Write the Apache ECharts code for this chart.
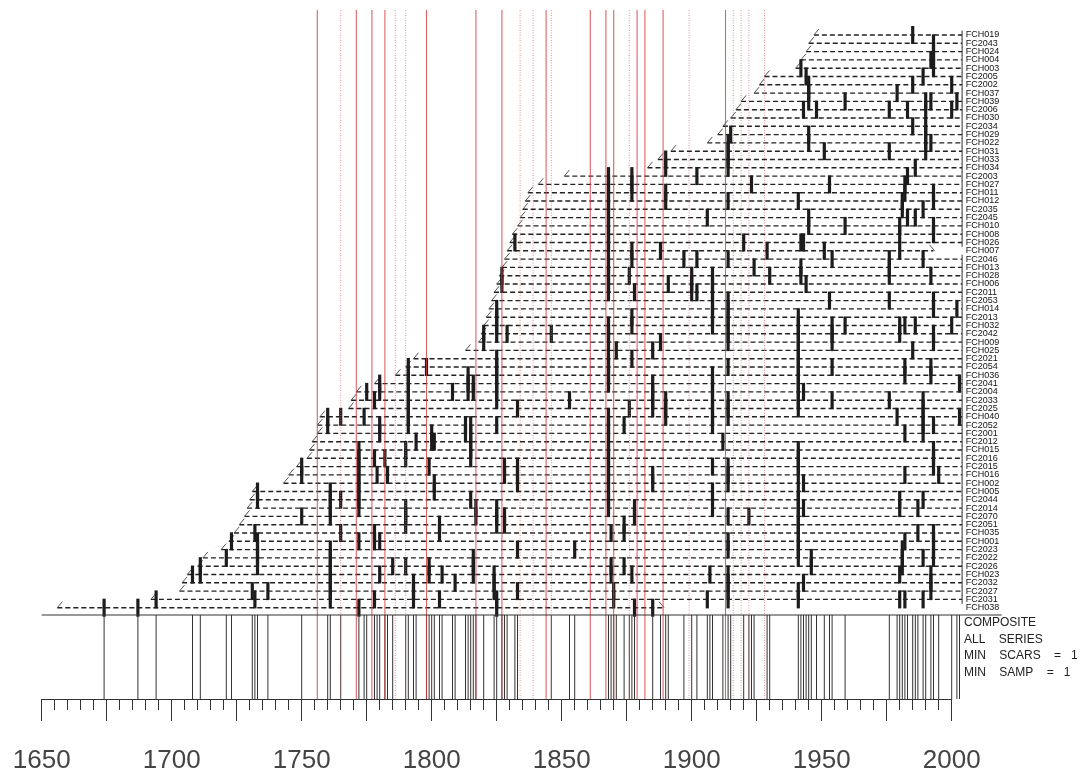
<!DOCTYPE html>
<html>
<head>
<meta charset="utf-8">
<title>Fire history chart</title>
<script src="https://cdn.jsdelivr.net/npm/echarts@6/dist/echarts.min.js"></script>
<style>
  html, body { margin: 0; padding: 0; background: #ffffff; }
  #chart { width: 1083px; height: 774px; }
</style>
</head>
<body>
<div id="chart"></div>
<script>
// Sample names, top to bottom
const seriesNames = [
  'FCH019','FC2043','FCH024','FCH004','FCH003','FC2005','FC2002','FCH037','FCH039','FC2006',
  'FCH030','FC2034','FCH029','FCH022','FCH031','FCH033','FCH034','FC2003','FCH027','FCH011',
  'FCH012','FC2035','FC2045','FCH010','FCH008','FCH026','FCH007','FC2046','FCH013','FCH028',
  'FCH006','FC2011','FC2053','FCH014','FC2013','FCH032','FC2042','FCH009','FCH025','FC2021',
  'FC2054','FCH036','FC2041','FC2004','FC2033','FC2025','FCH040','FC2052','FC2001','FC2012',
  'FCH015','FC2016','FC2015','FCH016','FCH002','FCH005','FC2044','FC2014','FC2070','FC2051',
  'FCH035','FCH001','FC2023','FC2022','FC2026','FCH023','FC2032','FC2027','FC2031','FCH038'
];

// Inner (first) year of each sample
const firstYears = [
  1947,1945,1944,1942,1940,1928,1926,1924,1919,1917,
  1915,1912,1910,1906,1892,1887,1883,1851,1841,1837,
  1836,1835,1834,1833,1831,1830,1829,1828,1827,1826,
  1825,1824,1823,1822,1821,1820,1819,1818,1813,1793,
  1790,1786,1778,1771,1769,1768,1757,1756,1756,1754,
  1753,1752,1748,1745,1743,1731,1730,1729,1728,1726,
  1724,1722,1719,1712,1710,1706,1704,1703,1692,1656
];

// Outer (last) year of each sample
const lastYears = [
  2004,2004,2004,2004,2004,2004,2004,2004,2004,2004,
  2004,2004,2004,2004,2004,2004,2004,2004,2004,2004,
  2004,2004,2004,2004,2004,2004,1993,2004,2004,2004,
  2004,2004,2004,2004,2004,2004,2004,2004,2004,2004,
  2004,2004,2004,2004,2004,2004,2004,2004,2004,2004,
  2004,2004,2004,2004,2004,2004,2004,2004,2004,2004,
  2004,2004,2004,2004,2004,2004,2004,2004,2004,1889
];

// 1 = outer ring without bark, 0 = bark year
const outerNoBark = [
  0,0,0,0,0,0,0,0,0,0, 0,0,0,0,0,0,0,0,0,0,
  0,0,0,0,0,0,1,0,0,0, 0,0,0,0,0,0,0,0,0,0,
  0,0,0,0,0,0,0,0,0,0, 0,0,0,0,0,0,0,0,0,0,
  0,0,0,0,0,0,0,0,0,1
];

// Fire scar years per sample
const scarYears = [
  [1985],
  [1993],
  [1993],
  [1992, 1993],
  [1942, 1993],
  [1944, 1989],
  [1945, 1985, 2000],
  [1945, 1979],
  [1945, 1959, 1990, 1992, 2002],
  [1943, 1948, 1976, 1983, 1990, 2000],
  [],
  [1985, 1990],
  [1915, 1945, 1990],
  [1914, 1945, 1990, 1992],
  [1914, 1951, 1976, 1990],
  [1890, 1914],
  [1890, 1914, 1986],
  [1868, 1877, 1902, 1983],
  [1868, 1877, 1923, 1953, 1982],
  [1868, 1877, 1890, 1982, 1993],
  [1868, 1890, 1914, 1941, 1981, 1993],
  [1868, 1981, 1989],
  [1868, 1906, 1945, 1983, 1986],
  [1868, 1945, 1959, 1980, 1993],
  [1868, 1980, 1993],
  [1832, 1868, 1920, 1942, 1943],
  [1868, 1877, 1888, 1929, 1951, 1980],
  [1877, 1897, 1902, 1914, 1954, 1976, 1989],
  [1868, 1924, 1942, 1976],
  [1827, 1868, 1876, 1900, 1908, 1930, 1942, 1976, 1992],
  [1827, 1868, 1891, 1900, 1908, 1944],
  [1868, 1878, 1900, 1902, 1908],
  [1908, 1914, 1953, 1976, 1993],
  [1825, 1908, 1914, 1993, 2002],
  [1825, 1877, 1908, 1914, 1941],
  [1825, 1868, 1877, 1908, 1914, 1941, 1954, 1959, 1980, 1982, 1986, 2000],
  [1820, 1825, 1829, 1846, 1868, 1914, 1941, 1954, 1980, 1993],
  [1820, 1868, 1888, 1914, 1941, 1954, 1993],
  [1871, 1885, 1941, 1985],
  [1825, 1868, 1877, 1941],
  [1791, 1798, 1825, 1868, 1914, 1941, 1954, 1982, 1992],
  [1791, 1814, 1825, 1868, 1908, 1941, 1982, 1992],
  [1780, 1791, 1814, 1816, 1825, 1868, 1885, 1908, 1941, 2003],
  [1775, 1780, 1791, 1808, 1814, 1816, 1825, 1885, 1908, 1941, 1943],
  [1778, 1791, 1825, 1853, 1885, 1890, 1908, 1914, 1941, 1954, 1976, 1989],
  [1791, 1833, 1876, 1885, 1890, 1908, 1914, 1941, 1989],
  [1760, 1765, 1774, 1791, 1868, 1890, 1908, 1914, 1979, 1989, 2003],
  [1760, 1780, 1791, 1813, 1815, 1825, 1868, 1874, 1908, 1989, 1993],
  [1780, 1800, 1813, 1815, 1868, 1982, 1989],
  [1794, 1800, 1801, 1815, 1868, 1912],
  [1772, 1790, 1815, 1868, 1941, 1993],
  [1772, 1778, 1782, 1790, 1815, 1868, 1941, 1993],
  [1750, 1772, 1799, 1828, 1833, 1868, 1908, 1914, 1941, 1993],
  [1750, 1772, 1779, 1783, 1828, 1833, 1868, 1885, 1914, 1941, 1982, 1995],
  [1772, 1801, 1833, 1868, 1885, 1914, 1943],
  [1733, 1761, 1772, 1801, 1868, 1908, 1941],
  [1733, 1761, 1765, 1772, 1815, 1868, 1941, 1980, 1989],
  [1761, 1772, 1790, 1817, 1825, 1868, 1878, 1908, 1941, 1943, 1980, 1987],
  [1750, 1761, 1790, 1817, 1825, 1828, 1878, 1914, 1922, 1941],
  [1790, 1803, 1825, 1828, 1874, 1941],
  [1732, 1765, 1778, 1803, 1869, 1874, 1941, 1987, 1993],
  [1723, 1733, 1772, 1778, 1780, 1914, 1941, 1982, 1993],
  [1733, 1761, 1833, 1855, 1914, 1941, 1981, 1993],
  [1721, 1733, 1761, 1816, 1941, 1946, 1981, 1989, 1993],
  [1711, 1733, 1761, 1785, 1790, 1799, 1816, 1869, 1874, 1946, 1981],
  [1708, 1711, 1761, 1780, 1799, 1804, 1816, 1824, 1869, 1877, 1907, 1914, 1980, 1992],
  [1761, 1793, 1809, 1824, 1914, 1943, 1992],
  [1731, 1737, 1761, 1793, 1824, 1833, 1870, 1914, 1941, 1992],
  [1694, 1732, 1761, 1778, 1793, 1803, 1825, 1870, 1906, 1914, 1941, 1980, 1982, 1989],
  [1674, 1687, 1772, 1825, 1878, 1885]
];

// Highlighted years (solid and dotted red guides)
const redSolidYears = [1756, 1771, 1777, 1782, 1798, 1817, 1827, 1844, 1861, 1867, 1870, 1879, 1882, 1889, 1913];
const redDottedYears = [1765, 1786, 1790, 1834, 1839, 1846, 1876, 1899, 1916, 1919, 1922, 1928];

// Year labels on the time axis
const tickLabelYears = [1650, 1700, 1750, 1800, 1850, 1900, 1950, 2000];

// Composite legend lines
const compositeNotes = ['COMPOSITE', 'ALL    SERIES', 'MIN    SCARS    =   1', 'MIN    SAMP    =   1'];

// ---- derived tables ----
const rowData = seriesNames.map((n, i) => [i, firstYears[i], lastYears[i], outerNoBark[i]]);
const scarData = [];
scarYears.forEach((ys, i) => ys.forEach(y => scarData.push([y, i])));
const compositeYears = Array.from(new Set(scarData.map(d => d[0]))).sort((a, b) => a - b);
const redData = redSolidYears.map(y => [y, 0]).concat(redDottedYears.map(y => [y, 1]));

const FONT = '"Liberation Sans", Arial, Helvetica, sans-serif';
const chart = echarts.init(document.getElementById('chart'), null, { renderer: 'canvas' });

const option = {
  animation: false,
  backgroundColor: '#ffffff',
  grid: [
    { left: 41.7, right: 118.3, top: 30.85, height: 581 },
    { left: 41.7, right: 131.3, top: 615, bottom: 74 }
  ],
  xAxis: [
    { gridIndex: 0, type: 'value', min: 1650, max: 2005, show: false },
    {
      gridIndex: 1, type: 'value', min: 1650, max: 2000, interval: 25,
      axisLine: { show: true, lineStyle: { color: '#333', width: 1 } },
      axisTick: { show: true, length: 22, lineStyle: { color: '#333', width: 1 } },
      minorTick: { show: true, splitNumber: 5, length: 11, lineStyle: { color: '#333', width: 1 } },
      splitLine: { show: false },
      axisLabel: {
        margin: 49, fontSize: 26, color: '#444', fontFamily: FONT,
        formatter: v => (tickLabelYears.indexOf(v) >= 0 ? String(v) : '')
      }
    }
  ],
  yAxis: [
    {
      gridIndex: 0, type: 'category', data: seriesNames, inverse: true, position: 'right',
      axisLine: { show: false }, axisTick: { show: false }, splitLine: { show: false },
      axisLabel: {
        interval: 0, margin: 1, fontSize: 9, color: '#111', fontFamily: FONT,
        padding: [0, 0, 7, 0]
      }
    },
    { gridIndex: 1, type: 'value', min: 0, max: 1, show: false }
  ],
  graphic: [
    {
      type: 'line', silent: true, z: 5,
      shape: { x1: 41.7, y1: 615, x2: 1001.7, y2: 615 },
      style: { stroke: '#333', lineWidth: 1 }
    }
  ].concat(compositeNotes.map((t, k) => ({
    type: 'text', silent: true, z: 5,
    x: 964, y: 623 + k * 16.4,
    style: { text: t, font: '12px ' + FONT, fill: '#222', textVerticalAlign: 'middle' }
  }))),
  series: [
    {
      // sample time spans
      type: 'custom', xAxisIndex: 0, yAxisIndex: 0, z: 1,
      data: rowData, encode: { x: [1, 2], y: 0 },
      renderItem: (params, api) => {
        const row = api.value(0);
        const p0 = api.coord([api.value(1), row]);
        const p1 = api.coord([api.value(2), row]);
        const y = p0[1];
        const kids = [
          { type: 'line', shape: { x1: p0[0], y1: y, x2: p1[0], y2: y },
            style: { stroke: '#222', lineWidth: 1.4, lineDash: [5, 3] } },
          { type: 'line', shape: { x1: p0[0], y1: y, x2: p0[0] + 5, y2: y - 6 },
            style: { stroke: '#555', lineWidth: 1 } }
        ];
        if (api.value(3)) {
          kids.push({ type: 'line', shape: { x1: p1[0] - 4, y1: y - 6, x2: p1[0] + 1, y2: y },
            style: { stroke: '#555', lineWidth: 1 } });
        } else {
          kids.push({ type: 'line', shape: { x1: p1[0], y1: y - 4.4, x2: p1[0], y2: y + 4.4 },
            style: { stroke: '#333', lineWidth: 1 } });
        }
        return { type: 'group', children: kids };
      }
    },
    {
      // fire scars
      type: 'custom', xAxisIndex: 0, yAxisIndex: 0, z: 2,
      data: scarData, encode: { x: 0, y: 1 },
      renderItem: (params, api) => {
        const p = api.coord([api.value(0), api.value(1)]);
        return { type: 'rect', shape: { x: p[0] - 1.6, y: p[1] - 9, width: 3.2, height: 18 },
          style: { fill: '#1c1c1c' } };
      }
    },
    {
      // composite fire years
      type: 'custom', xAxisIndex: 1, yAxisIndex: 1, z: 2, clip: false,
      data: compositeYears.map(y => [y, 0]), encode: { x: 0, y: 1 },
      renderItem: (params, api) => {
        const x = api.coord([api.value(0), 0])[0];
        const cs = params.coordSys;
        return { type: 'line', shape: { x1: x, y1: cs.y, x2: x, y2: cs.y + cs.height },
          style: { stroke: '#333', lineWidth: 1 } };
      }
    },
    {
      // red guide lines across the whole plot
      type: 'custom', xAxisIndex: 1, yAxisIndex: 1, z: 3, clip: false,
      data: redData, encode: { x: 0, y: 1 },
      renderItem: (params, api) => {
        const x = api.coord([api.value(0), 0])[0];
        const cs = params.coordSys;
        const dotted = api.value(1) === 1;
        return { type: 'line', shape: { x1: x, y1: 10, x2: x, y2: cs.y + cs.height },
          style: dotted
            ? { stroke: 'rgba(228,110,110,0.75)', lineWidth: 1, lineDash: [1, 1.5] }
            : { stroke: 'rgba(212,55,55,0.78)', lineWidth: 1.1 } };
      }
    }
  ]
};
chart.setOption(option);
</script>
</body>
</html>
